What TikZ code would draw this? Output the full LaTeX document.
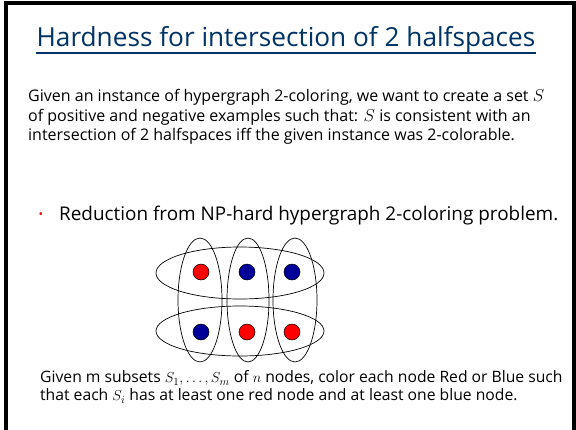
\documentclass[tikz,border=0pt]{standalone}
\usepackage{fontspec}
\setmainfont{Open Sans}
\usetikzlibrary{positioning}

\definecolor{titleblue}{RGB}{0,51,102}
\definecolor{dotred}{RGB}{255,0,0}
\definecolor{dotblue}{RGB}{0,0,153}

\tikzset{
  dot/.style={circle, draw=black, line width=0.5, inner sep=0, minimum size=16},
  reddot/.style={dot, fill=dotred},
  bluedot/.style={dot, fill=dotblue},
  settext/.style={anchor=west, inner sep=0, align=left}
}

\begin{document}
\begin{tikzpicture}[x=1pt, y=-1pt]

  \useasboundingbox (0,0) rectangle (576,429);
  \fill[white] (0,0) rectangle (576,429);

  % cornice della slide
  \draw[line width=4] (5.5,3) rectangle (574,445);

  % titolo
  \node[inner sep=0, text=titleblue, font=\fontsize{26.2}{30}\selectfont] (title) at (286,40)
    {Hardness for intersection of 2 halfspaces};
  \draw[titleblue, line width=1.3] ([yshift=-6]title.base west) -- ([yshift=-6]title.base east);

  % testo introduttivo
  \node[settext, font=\fontsize{16}{19.5}\selectfont] (intro) at (28,117)
    {Given an instance of hypergraph 2-coloring, we want to create a set $S$\\
     of positive and negative examples such that: $S$ is consistent with an\\
     intersection of 2 halfspaces iff the given instance was 2-colorable.};

  % punto elenco
  \node[inner sep=0, text=dotred, font=\fontsize{12}{14}\selectfont] (bullet) at (41,216) {\textbullet};
  \node[settext, font=\fontsize{18.9}{22}\selectfont] (reduction) at (59,216)
    {Reduction from NP-hard hypergraph 2-coloring problem.};

  % ipergrafo: tre colonne, due righe
  \def\rowA{272}
  \def\rowB{332}
  \node[reddot]  (n11) at (201,\rowA) {};
  \node[bluedot] (n12) at (247,\rowA) {};
  \node[bluedot] (n13) at (292,\rowA) {};
  \node[bluedot] (n21) at (201,\rowB) {};
  \node[reddot]  (n22) at (247,\rowB) {};
  \node[reddot]  (n23) at (292,\rowB) {};

  % sottoinsiemi orizzontali
  \draw[line width=0.7] (240,273) ellipse [x radius=84, y radius=26];
  \draw[line width=0.7] (240,331) ellipse [x radius=84, y radius=25];

  % sottoinsiemi verticali
  \draw[line width=0.7] (200,300) ellipse [x radius=22, y radius=62];
  \draw[line width=0.7] (248,300) ellipse [x radius=21, y radius=62];
  \draw[line width=0.7] (295,300) ellipse [x radius=22, y radius=62];

  % definizione del problema
  \node[settext, font=\fontsize{15.7}{18}\selectfont] (problem) at (40,387)
    {Given m subsets $S_1,\ldots,S_m$ of $n$ nodes, color each node Red or Blue such\\
     that each $S_i$ has at least one red node and at least one blue node.};

\end{tikzpicture}
\end{document}
